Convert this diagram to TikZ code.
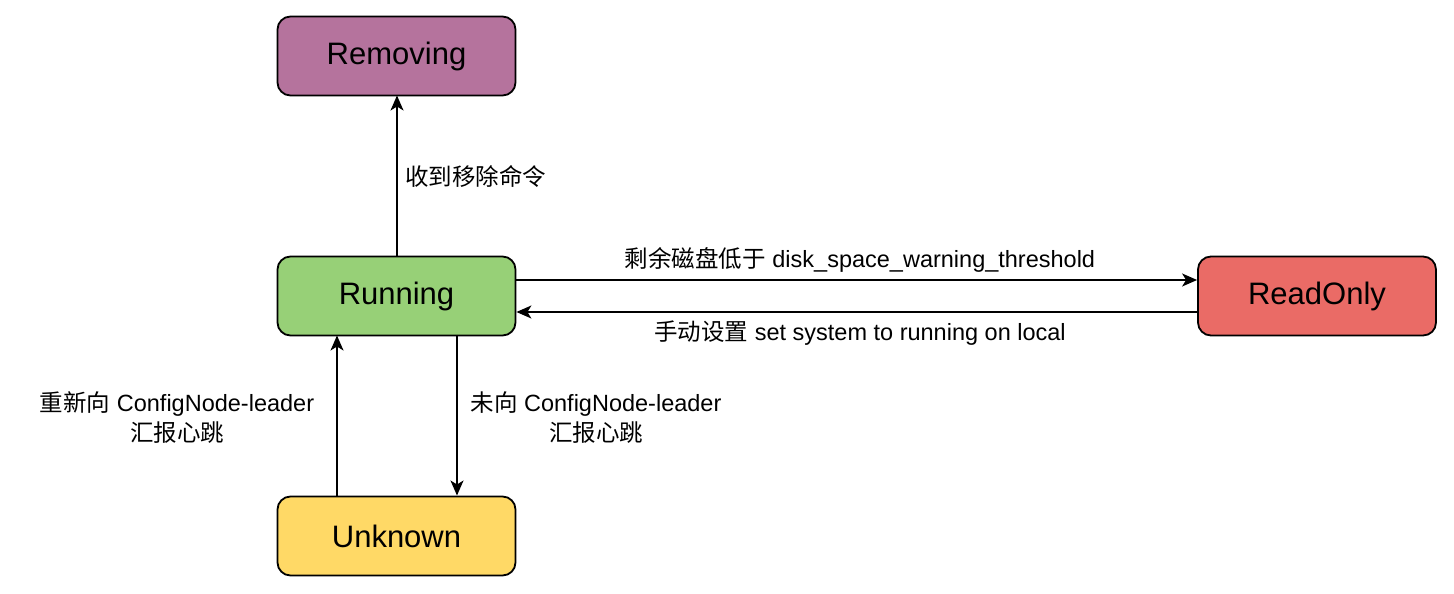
\documentclass[tikz,border=0pt]{standalone}
\usepackage{fontspec}
\setmainfont{Liberation Sans}
\newfontfamily\cjk{Noto Sans CJK SC}
\usetikzlibrary{arrows.meta}
\definecolor{cremove}{HTML}{B5739D}
\definecolor{crun}{HTML}{97D077}
\definecolor{cro}{HTML}{EA6B66}
\definecolor{cunk}{HTML}{FFD966}
\begin{document}
\begin{tikzpicture}[x=1pt,y=-1pt,
  state/.style={draw=black,line width=1.8pt,rounded corners=13pt,minimum width=238pt,minimum height=79pt,inner sep=0pt,font=\fontsize{31}{36}\selectfont},
  conn/.style={line width=1.6pt,-{Stealth[length=15pt,width=13pt,inset=4pt]}},
  lbl/.style={font=\fontsize{23.5}{30}\selectfont,align=center,inner sep=0pt}]
\useasboundingbox (0,0) rectangle (1454,594);
\node[state,fill=cremove] (rem) at (396.5,56) {Removing};
\node[state,fill=crun] (run) at (396.5,296) {Running};
\node[state,fill=cro] (ro) at (1317,296) {ReadOnly};
\node[state,fill=cunk] (unk) at (396.5,536) {Unknown};
\coordinate (rt) at (397,256.5);
\coordinate (rb) at (397,95.5);
\draw[conn] (rt) -- (rb);
\draw[conn] (run.east |- 0,280) -- (ro.west |- 0,280);
\draw[conn] (ro.west |- 0,312) -- (run.east |- 0,312);
\draw[conn] (337,495.5) coordinate (u1) -- (337,335.5) coordinate (u2);
\draw[conn] (457,335.5) coordinate (d1) -- (457,495.5) coordinate (d2);
\node[lbl,anchor=west] (l1) at (405,176) {\cjk 收到移除命令};
\node[lbl] (l2) at (860,260) {{\cjk 剩余磁盘低于} disk\_space\_warning\_threshold};
\node[lbl] (l3) at (860,333) {{\cjk 手动设置} set system to running on local};
\node[lbl] (l4) at (177,418) {{\cjk 重新向} ConfigNode-leader\\{\cjk 汇报心跳}};
\node[lbl] (l5) at (596,418) {{\cjk 未向} ConfigNode-leader\\{\cjk 汇报心跳}};
\end{tikzpicture}
\end{document}
